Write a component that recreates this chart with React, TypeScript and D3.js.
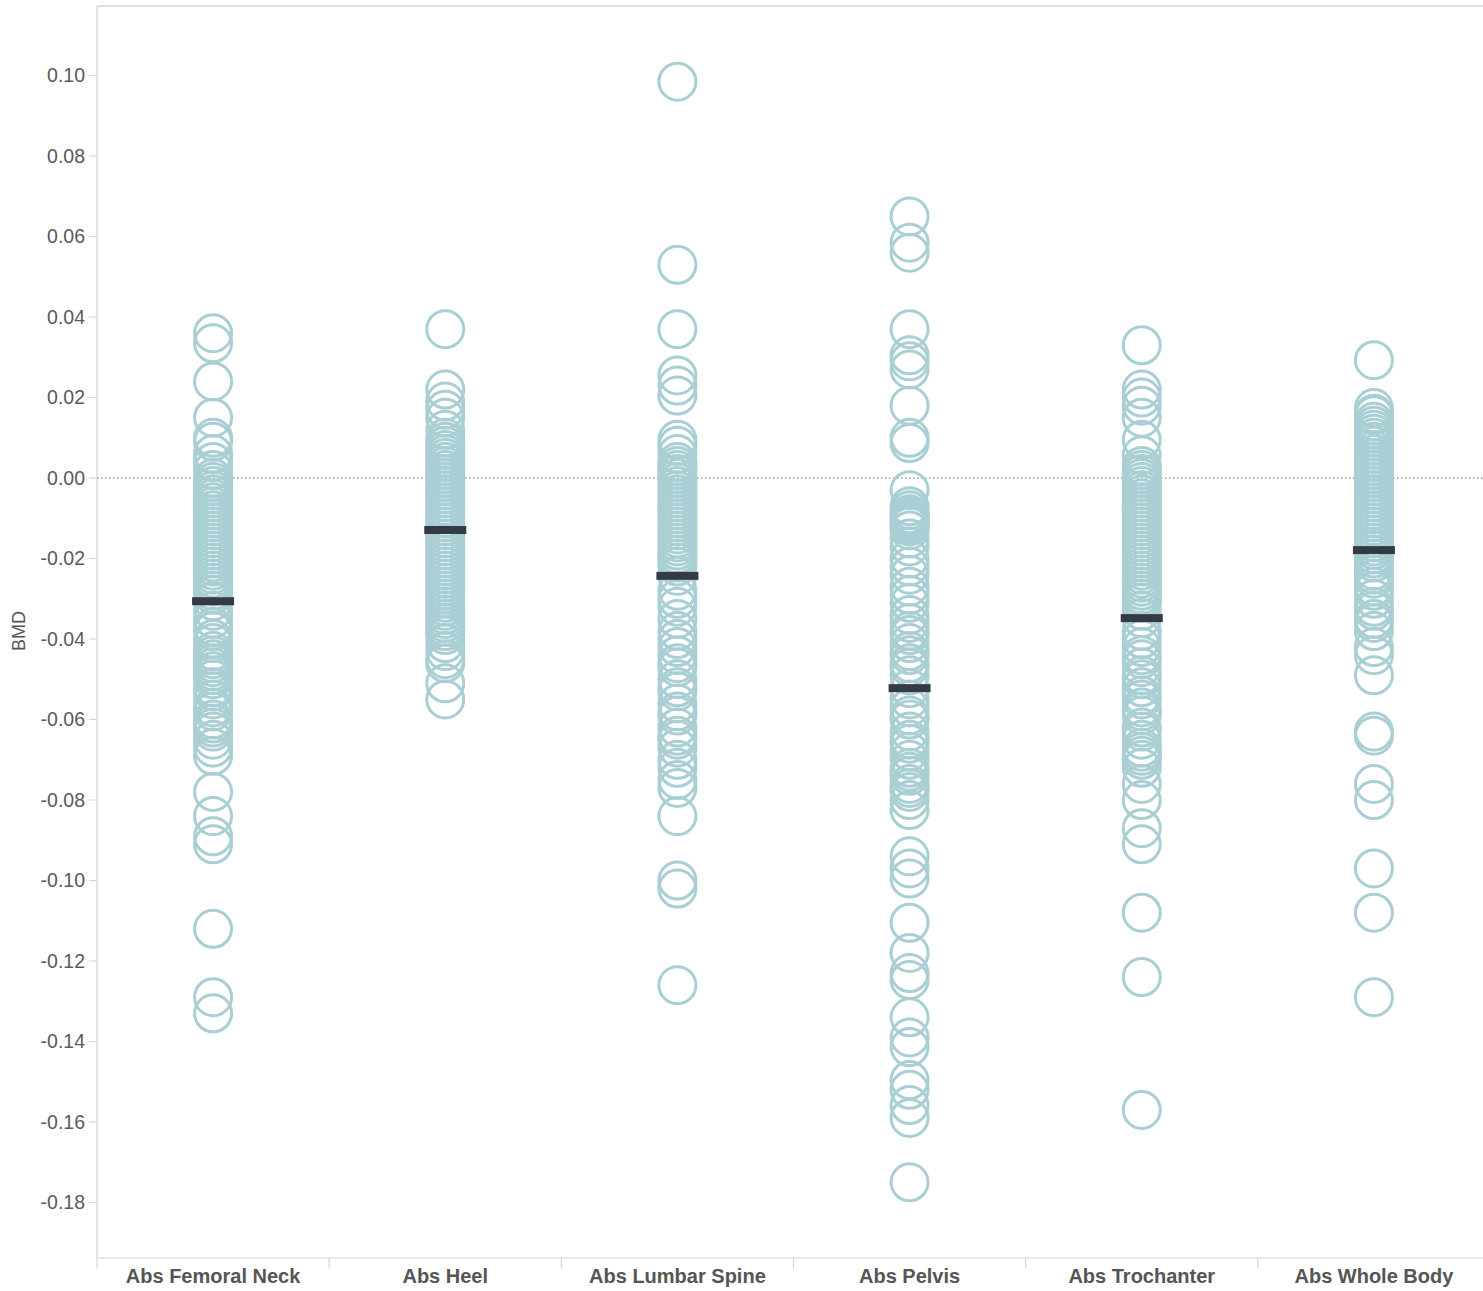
import React from "react";
import * as d3 from "d3";

// Bone mineral density change per measurement site
const sites = [
  "Abs Femoral Neck",
  "Abs Heel",
  "Abs Lumbar Spine",
  "Abs Pelvis",
  "Abs Trochanter",
  "Abs Whole Body",
];

const femoralNeck = [
  0.036, 0.0335, 0.024, 0.015, 0.01, 0.009, 0.006, 0.004, 0.002, 0.0, -0.001, -0.002,
  -0.003, -0.004, -0.005, -0.006, -0.007, -0.008, -0.009, -0.01, -0.011, -0.012, -0.013,
  -0.014, -0.015, -0.016, -0.017, -0.018, -0.019, -0.02, -0.021, -0.022, -0.023, -0.024,
  -0.025, -0.026, -0.027, -0.028, -0.029, -0.0306, -0.033, -0.035, -0.037, -0.038, -0.04,
  -0.041, -0.043, -0.044, -0.045, -0.046, -0.047, -0.048, -0.049, -0.05, -0.052, -0.053,
  -0.055, -0.057, -0.058, -0.06, -0.061, -0.062, -0.063, -0.065, -0.067, -0.069, -0.078,
  -0.084, -0.089, -0.091, -0.112, -0.129, -0.133,
];

const heel = [
  0.037, 0.022, 0.019, 0.017, 0.015, 0.012, 0.01, 0.009, 0.008, 0.007, 0.006, 0.005, 0.004,
  0.003, 0.002, 0.001, 0.0, -0.001, -0.002, -0.003, -0.004, -0.005, -0.006, -0.007, -0.008,
  -0.009, -0.01, -0.011, -0.012, -0.013, -0.014, -0.015, -0.016, -0.017, -0.018, -0.019,
  -0.02, -0.021, -0.022, -0.023, -0.024, -0.025, -0.026, -0.027, -0.028, -0.029, -0.03,
  -0.031, -0.032, -0.033, -0.034, -0.035, -0.036, -0.037, -0.038, -0.039, -0.041, -0.043,
  -0.045, -0.046, -0.051, -0.055,
];

const lumbarSpine = [
  0.0985, 0.053, 0.037, 0.0255, 0.023, 0.0205, 0.0095, 0.008, 0.006, 0.004, 0.003, 0.002,
  0.001, 0.0, -0.001, -0.002, -0.003, -0.004, -0.005, -0.006, -0.007, -0.008, -0.009,
  -0.01, -0.011, -0.012, -0.013, -0.014, -0.015, -0.016, -0.017, -0.018, -0.019, -0.02,
  -0.021, -0.022, -0.0243, -0.028, -0.03, -0.032, -0.035, -0.038, -0.04, -0.042, -0.044,
  -0.046, -0.047, -0.05, -0.052, -0.053, -0.056, -0.058, -0.059, -0.062, -0.064, -0.065,
  -0.067, -0.07, -0.072, -0.075, -0.077, -0.084, -0.1, -0.102, -0.126,
];

const pelvis = [
  0.065, 0.0585, 0.056, 0.037, 0.0305, 0.029, 0.027, 0.018, 0.01, 0.0087, -0.003, -0.007,
  -0.008, -0.009, -0.0095, -0.01, -0.0105, -0.011, -0.0115, -0.012, -0.013, -0.015, -0.017,
  -0.02, -0.022, -0.024, -0.027, -0.029, -0.031, -0.034, -0.036, -0.038, -0.039, -0.041,
  -0.043, -0.044, -0.046, -0.047, -0.049, -0.0522, -0.055, -0.057, -0.059, -0.06, -0.063,
  -0.065, -0.066, -0.068, -0.07, -0.072, -0.073, -0.074, -0.076, -0.077, -0.078, -0.08,
  -0.0825, -0.094, -0.097, -0.0995, -0.1105, -0.118, -0.123, -0.1247, -0.134, -0.139,
  -0.1414, -0.1496, -0.152, -0.1558, -0.159, -0.175,
];

const trochanter = [
  0.033, 0.022, 0.02, 0.018, 0.015, 0.0095, 0.0057, 0.003, 0.002, 0.001, 0.0, -0.001,
  -0.002, -0.003, -0.004, -0.005, -0.006, -0.007, -0.008, -0.009, -0.01, -0.011, -0.012,
  -0.013, -0.014, -0.015, -0.016, -0.017, -0.018, -0.019, -0.02, -0.021, -0.022, -0.023,
  -0.024, -0.025, -0.026, -0.027, -0.028, -0.029, -0.03, -0.031, -0.033, -0.0348, -0.038,
  -0.04, -0.042, -0.044, -0.045, -0.047, -0.049, -0.05, -0.052, -0.054, -0.055, -0.057,
  -0.058, -0.059, -0.062, -0.063, -0.065, -0.067, -0.068, -0.069, -0.07, -0.072, -0.076,
  -0.08, -0.087, -0.091, -0.108, -0.124, -0.157,
];

const wholeBody = [
  0.0293, 0.0174, 0.016, 0.0156, 0.014, 0.013, 0.012, 0.011, 0.01, 0.009, 0.008, 0.007,
  0.006, 0.005, 0.004, 0.003, 0.002, 0.001, 0.0, -0.001, -0.002, -0.003, -0.004, -0.005,
  -0.006, -0.007, -0.008, -0.009, -0.01, -0.011, -0.012, -0.013, -0.014, -0.015, -0.016,
  -0.017, -0.0179, -0.019, -0.02, -0.021, -0.023, -0.024, -0.025, -0.027, -0.028, -0.03,
  -0.032, -0.033, -0.035, -0.036, -0.038, -0.042, -0.044, -0.049, -0.063, -0.064, -0.076,
  -0.08, -0.097, -0.108, -0.129,
];

const siteValues = [femoralNeck, heel, lumbarSpine, pelvis, trochanter, wholeBody];

// Reference line (median) per site
const medianBMD = [-0.0306, -0.0129, -0.0243, -0.0522, -0.0348, -0.0179];

const yTicks = [0.1, 0.08, 0.06, 0.04, 0.02, 0.0, -0.02, -0.04, -0.06, -0.08, -0.1, -0.12, -0.14, -0.16, -0.18];

const W = 1483;
const H = 1291;
const plotLeft = 97;
const plotRight = 1490;
const plotTop = 6;
const plotBottom = 1258;

export default function App() {
  const x = d3.scaleBand<string>().domain(sites).range([plotLeft, plotRight]);
  const y = d3.scaleLinear().domain([0.1173, -0.1938]).range([plotTop, plotBottom]);
  const fmt = (v: number) => v.toFixed(2);
  const circleColor = "#a9cfd4";
  const labelColor = "#555";
  const gridColor = "#d4d4d4";

  return (
    <svg
      width={W}
      height={H}
      style={{ position: "absolute", left: 0, top: 0, background: "#fff" }}
      fontFamily="'Liberation Sans', Arial, sans-serif"
    >
      {/* frame */}
      <line x1={plotLeft} x2={W} y1={plotTop} y2={plotTop} stroke={gridColor} strokeWidth={1.5} />
      <line x1={plotLeft} x2={plotLeft} y1={plotTop} y2={plotBottom + 10} stroke={gridColor} strokeWidth={1.2} />
      <line x1={plotLeft} x2={W} y1={plotBottom} y2={plotBottom} stroke={gridColor} strokeWidth={1.2} />

      {/* site separators under the axis */}
      {sites.map((s) => (
        <line
          key={"sep" + s}
          x1={(x(s) as number) + x.bandwidth()}
          x2={(x(s) as number) + x.bandwidth()}
          y1={plotBottom}
          y2={plotBottom + 10}
          stroke={gridColor}
          strokeWidth={1.2}
        />
      ))}

      {/* y axis ticks */}
      {yTicks.map((t) => (
        <g key={"t" + t}>
          <line x1={plotLeft - 8} x2={plotLeft} y1={y(t)} y2={y(t)} stroke={gridColor} strokeWidth={1} />
          <text
            x={plotLeft - 12}
            y={y(t)}
            dy="0.35em"
            textAnchor="end"
            fontSize={19.5}
            fill="#5a5a5a"
          >
            {fmt(t)}
          </text>
        </g>
      ))}

      <text
        transform={`translate(25,${y(-0.038) as number}) rotate(-90)`}
        textAnchor="middle"
        fontSize={18}
        fill={labelColor}
      >
        BMD
      </text>

      {/* zero line */}
      <line
        x1={plotLeft}
        x2={W}
        y1={y(0)}
        y2={y(0)}
        stroke="#666"
        strokeWidth={1}
        strokeDasharray="1.5,2.5"
      />

      {/* points */}
      {siteValues.map((vals, i) => {
        const cx = (x(sites[i]) as number) + x.bandwidth() / 2;
        return (
          <g key={"pts" + i}>
            {vals.map((v, j) => (
              <circle
                key={j}
                cx={cx}
                cy={y(v)}
                r={18.5}
                fill="none"
                stroke={circleColor}
                strokeWidth={3}
              />
            ))}
          </g>
        );
      })}

      {/* median bars */}
      {medianBMD.map((m, i) => {
        const cx = (x(sites[i]) as number) + x.bandwidth() / 2;
        return (
          <rect key={"m" + i} x={cx - 21} y={y(m) - 4} width={42} height={8} fill="#343b46" />
        );
      })}

      {/* category labels */}
      {sites.map((s) => (
        <text
          key={"lab" + s}
          x={(x(s) as number) + x.bandwidth() / 2}
          y={plotBottom + 18}
          dy="0.35em"
          textAnchor="middle"
          fontSize={20}
          fontWeight="bold"
          fill={labelColor}
        >
          {s}
        </text>
      ))}
    </svg>
  );
}
